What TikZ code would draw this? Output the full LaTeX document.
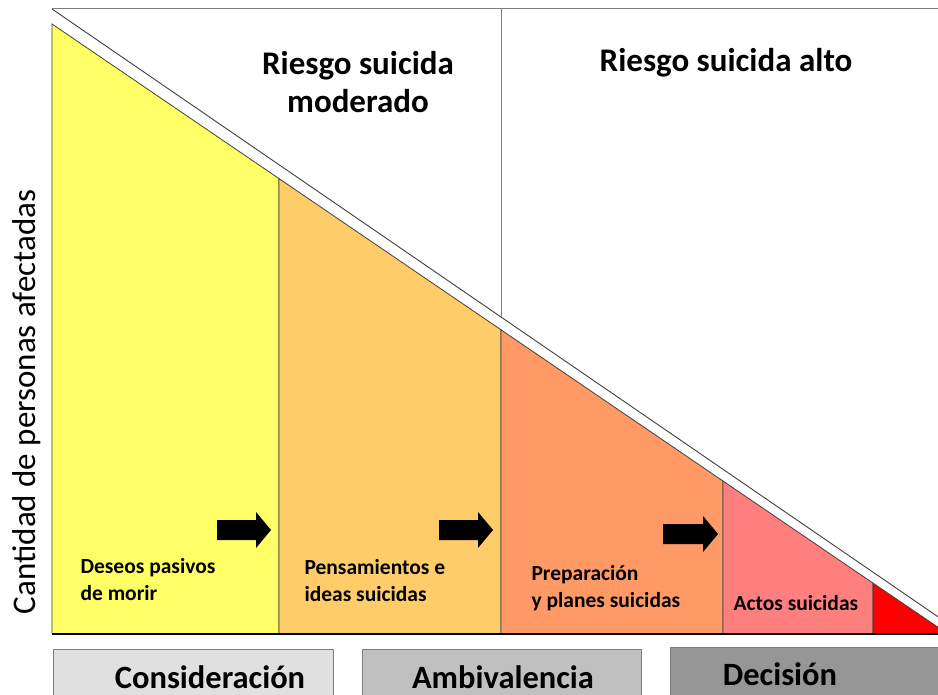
\documentclass[tikz,border=0pt]{standalone}
\usepackage{fontspec}
\setmainfont{Carlito}
\definecolor{cyellow}{HTML}{FFFF66}
\definecolor{corange}{HTML}{FFCC6A}
\definecolor{csalmon}{HTML}{FF9966}
\definecolor{cpink}{HTML}{FF7F7F}
\definecolor{cred}{HTML}{FF0000}
\definecolor{gboxa}{HTML}{E0E0E0}
\definecolor{gboxb}{HTML}{C0C0C0}
\definecolor{gboxc}{HTML}{969696}
\definecolor{gline}{HTML}{7F7F7F}
\definecolor{dline}{HTML}{404040}
\tikzset{
  zone/.style={draw=dline, line width=0.8pt, line join=miter},
  phasebox/.style={draw=gline, line width=1pt},
  blockarrow/.style={fill=black},
  headtxt/.style={font=\fontsize{33}{38}\selectfont\bfseries, align=center},
  steptxt/.style={font=\fontsize{21.5}{27}\selectfont\bfseries, align=left, anchor=west},
  phasetxt/.style={font=\fontsize{32.5}{34}\selectfont\bfseries},
  axistxt/.style={font=\fontsize{33}{36}\selectfont, rotate=90}
}
\begin{document}
\begin{tikzpicture}[x=1pt,y=-1pt]
\useasboundingbox (0,0) rectangle (938,695);
\clip (0,0) rectangle (938,695);
% key points
\coordinate (tl) at (52,24);
\coordinate (ta) at (279,178.6);
\coordinate (tb) at (501,329.8);
\coordinate (tc) at (723,481);
\coordinate (td) at (873,583.1);
\coordinate (te) at (948,634);
\coordinate (bl) at (52,634);
\coordinate (ba) at (279,634);
\coordinate (bb) at (501,634);
\coordinate (bc) at (723,634);
\coordinate (bd) at (873,634);
% colored zones
\filldraw[zone, fill=cyellow] (bl) -- (tl) -- (ta) -- (ba) -- cycle;
\filldraw[zone, fill=corange] (ba) -- (ta) -- (tb) -- (bb) -- cycle;
\filldraw[zone, fill=csalmon] (bb) -- (tb) -- (tc) -- (bc) -- cycle;
\filldraw[zone, fill=cpink] (bc) -- (tc) -- (td) -- (bd) -- cycle;
\filldraw[zone, fill=cred] (bd) -- (td) -- (te) -- cycle;
\draw[black, line width=1.3pt] (bl) -- (te);
% outer frame lines
\coordinate (oa) at (52,9);
\coordinate (ob) at (945,9);
\coordinate (oc) at (950,625);
\coordinate (vt) at (501,9);
\coordinate (vb) at (501,317);
\draw[gline, line width=1pt] (oa) -- (ob);
\draw[dline, line width=0.9pt] (oa) -- (oc);
\draw[gline, line width=1pt] (vt) -- (vb);
% headings
\node[headtxt] (hmod) at (358,82) {Riesgo suicida\\moderado};
\node[headtxt] (halt) at (726,63) {Riesgo suicida alto};
% axis label
\node[axistxt] (axis) at (27,402) {Cantidad de personas afectadas};
% step labels
\node[steptxt] (s1) at (77,580) {Deseos pasivos\\de morir};
\node[steptxt] (s2) at (301,581) {Pensamientos e\\ideas suicidas};
\node[steptxt] (s3) at (528,588) {Preparación\\y planes suicidas};
\node[steptxt] (s4) at (730,603) {Actos suicidas};
% block arrows
\fill[blockarrow] (217,520) -- (256,520) -- (256,512) -- (271,530) -- (256,548) -- (256,540) -- (217,540) -- cycle;
\fill[blockarrow] (439,520) -- (478,520) -- (478,512) -- (493,530) -- (478,548) -- (478,540) -- (439,540) -- cycle;
\fill[blockarrow] (663,524) -- (703,524) -- (703,516) -- (718,534) -- (703,552) -- (703,544) -- (663,544) -- cycle;
% phase boxes
\filldraw[phasebox, fill=gboxa] (53,649) rectangle (333,702);
\filldraw[phasebox, fill=gboxb] (362,649) rectangle (641,702);
\filldraw[phasebox, fill=gboxc] (670,647) rectangle (945,702);
\node[phasetxt] (p1) at (210,677) {Consideración};
\node[phasetxt] (p2) at (503,677) {Ambivalencia};
\node[phasetxt] (p3) at (780,674) {Decisión};
\end{tikzpicture}
\end{document}
